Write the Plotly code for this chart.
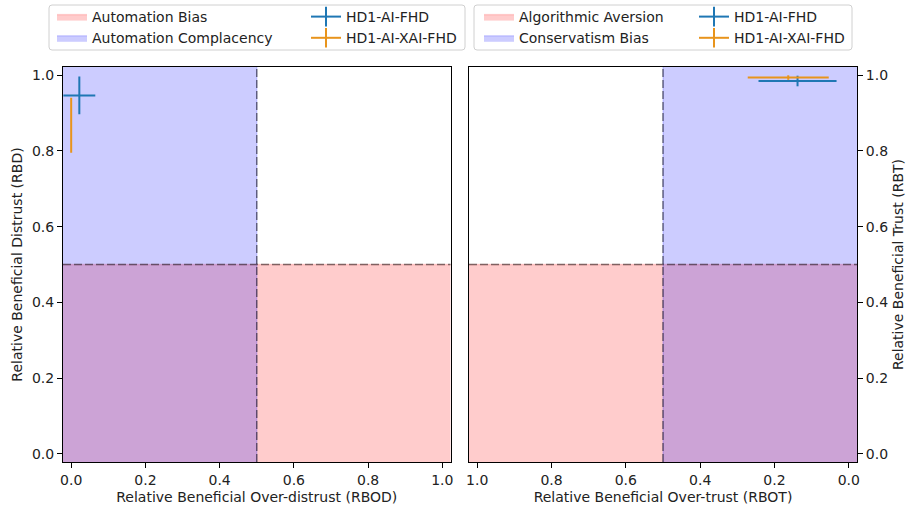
import plotly.graph_objects as go

# ---- data ----
THRESHOLD = 0.5
AXIS_MIN = -0.022
AXIS_MAX = 1.022
tick_vals = [0.0, 0.2, 0.4, 0.6, 0.8, 1.0]
tick_text = ["0.0", "0.2", "0.4", "0.6", "0.8", "1.0"]

series_names = ["HD1-AI-FHD", "HD1-AI-XAI-FHD"]
series_colors = ["#1f77b4", "#e8941c"]

# left panel: RBOD (x) vs RBD (y)
rbod = [0.022, 0.0]
rbod_err = [0.043, 0.0]
rbd = [0.947, 0.868]
rbd_err = [0.050, 0.0725]

# right panel: RBOT (x) vs RBT (y)
rbot = [0.138, 0.163]
rbot_err = [0.105, 0.109]
rbt = [0.985, 0.994]
rbt_err = [0.014, 0.006]

left_regions = ["Automation Bias", "Automation Complacency"]
right_regions = ["Algorithmic Aversion", "Conservatism Bias"]

RED_FILL = "rgba(255,0,0,0.2)"
BLUE_FILL = "rgba(0,0,255,0.2)"
FONT = "DejaVu Sans"
FS = 14
W, H = 907, 508

fig = go.Figure()

def add_regions(xa, ya, names, legend):
    lo, hi, t = AXIS_MIN - 0.05, AXIS_MAX + 0.05, THRESHOLD
    fig.add_trace(go.Scatter(
        x=[lo, hi, hi, lo, lo], y=[lo, lo, t, t, lo], fill="toself",
        fillcolor=RED_FILL, mode="lines", line=dict(color="rgba(255,0,0,0.15)", width=1.5),
        name=names[0], legend=legend, xaxis=xa, yaxis=ya, hoverinfo="skip"))
    fig.add_trace(go.Scatter(
        x=[lo, t, t, lo, lo], y=[lo, lo, hi, hi, lo], fill="toself",
        fillcolor=BLUE_FILL, mode="lines", line=dict(color="rgba(0,0,255,0.15)", width=1.5),
        name=names[1], legend=legend, xaxis=xa, yaxis=ya, hoverinfo="skip"))

def add_points(xa, ya, xs, xe, ys, ye, legend):
    for i, nm in enumerate(series_names):
        c = series_colors[i]
        fig.add_trace(go.Scatter(
            x=[xs[i]], y=[ys[i]], mode="lines", line=dict(color=c, width=2),
            error_x=dict(type="data", array=[xe[i]], color=c, thickness=2, width=0, visible=True),
            error_y=dict(type="data", array=[ye[i]], color=c, thickness=2, width=0, visible=True),
            showlegend=False, xaxis=xa, yaxis=ya, name=nm))
        fig.add_trace(go.Scatter(
            x=[None], y=[None], mode="lines+markers", line=dict(color=c, width=2),
            marker=dict(symbol="line-ns-open", size=14, line=dict(color=c, width=2)),
            name=nm, legend=legend, xaxis=xa, yaxis=ya))

add_regions("x", "y", left_regions, "legend")
add_points("x", "y", rbod, rbod_err, rbd, rbd_err, "legend2")
add_regions("x2", "y2", right_regions, "legend3")
add_points("x2", "y2", rbot, rbot_err, rbt, rbt_err, "legend4")

dash_line = dict(color="rgba(0,0,0,0.5)", width=1.5, dash="8px,3px")
for xr, yr in [("x", "y"), ("x2", "y2")]:
    fig.add_shape(type="line", xref=xr, yref=yr + " domain", x0=THRESHOLD, x1=THRESHOLD,
                  y0=0, y1=1, line=dash_line, layer="above")
    fig.add_shape(type="line", xref=xr + " domain", yref=yr, x0=0, x1=1,
                  y0=THRESHOLD, y1=THRESHOLD, line=dash_line, layer="above")

# legend frames (rounded boxes, paper coordinates)
def rounded_box(x0, y0, x1, y1, r=3):
    X = lambda px: px / W
    Y = lambda py: 1 - py / H
    p = (f"M {X(x0 + r)},{Y(y0)} L {X(x1 - r)},{Y(y0)} Q {X(x1)},{Y(y0)} {X(x1)},{Y(y0 + r)} "
         f"L {X(x1)},{Y(y1 - r)} Q {X(x1)},{Y(y1)} {X(x1 - r)},{Y(y1)} "
         f"L {X(x0 + r)},{Y(y1)} Q {X(x0)},{Y(y1)} {X(x0)},{Y(y1 - r)} "
         f"L {X(x0)},{Y(y0 + r)} Q {X(x0)},{Y(y0)} {X(x0 + r)},{Y(y0)} Z")
    fig.add_shape(type="path", xref="paper", yref="paper", path=p,
                  line=dict(color="#d0d0d0", width=1), fillcolor="white", layer="below")

rounded_box(49, 5, 465, 50)
rounded_box(474, 5, 852, 50)

ax_common = dict(showline=True, linecolor="black", linewidth=1, mirror=True,
                 ticks="outside", ticklen=5, tickcolor="black", showgrid=False,
                 zeroline=False, tickvals=tick_vals, ticktext=tick_text, automargin=False,
                 tickfont=dict(family=FONT, size=FS, color="#222"))
ydom = [1 - 462 / H, 1 - 67 / H]

def leg(xpx):
    return dict(x=xpx / W, y=1 - 1 / H, xanchor="left", yanchor="top", orientation="v",
                bgcolor="rgba(0,0,0,0)", borderwidth=0, font=dict(family=FONT, size=FS, color="#222"),
                tracegroupgap=0, itemwidth=30)

fig.update_layout(
    width=W, height=H, margin=dict(l=0, r=0, t=0, b=0),
    plot_bgcolor="white", paper_bgcolor="white",
    font=dict(family=FONT, size=FS, color="#222"),
    xaxis=dict(ax_common, domain=[63 / W, 450.5 / W], range=[AXIS_MIN, AXIS_MAX], anchor="y",
               title=dict(text="Relative Beneficial Over-distrust (RBOD)", standoff=5,
                          font=dict(family=FONT, size=FS))),
    yaxis=dict(ax_common, domain=ydom, range=[AXIS_MIN, AXIS_MAX], anchor="x",
               title=dict(text="Relative Beneficial Distrust (RBD)", standoff=6,
                          font=dict(family=FONT, size=FS))),
    xaxis2=dict(ax_common, domain=[469 / W, 857 / W], range=[AXIS_MAX, AXIS_MIN], anchor="y2",
                title=dict(text="Relative Beneficial Over-trust (RBOT)", standoff=5,
                           font=dict(family=FONT, size=FS))),
    yaxis2=dict(ax_common, domain=ydom, range=[AXIS_MIN, AXIS_MAX], anchor="x2", side="right",
                title=dict(text="Relative Beneficial Trust (RBT)", standoff=6,
                           font=dict(family=FONT, size=FS))),
    legend=leg(52),
    legend2=leg(306),
    legend3=leg(479),
    legend4=leg(694),
)

fig.write_html("out.html", config={"displayModeBar": False},
               post_script="document.body.style.margin='0';")
